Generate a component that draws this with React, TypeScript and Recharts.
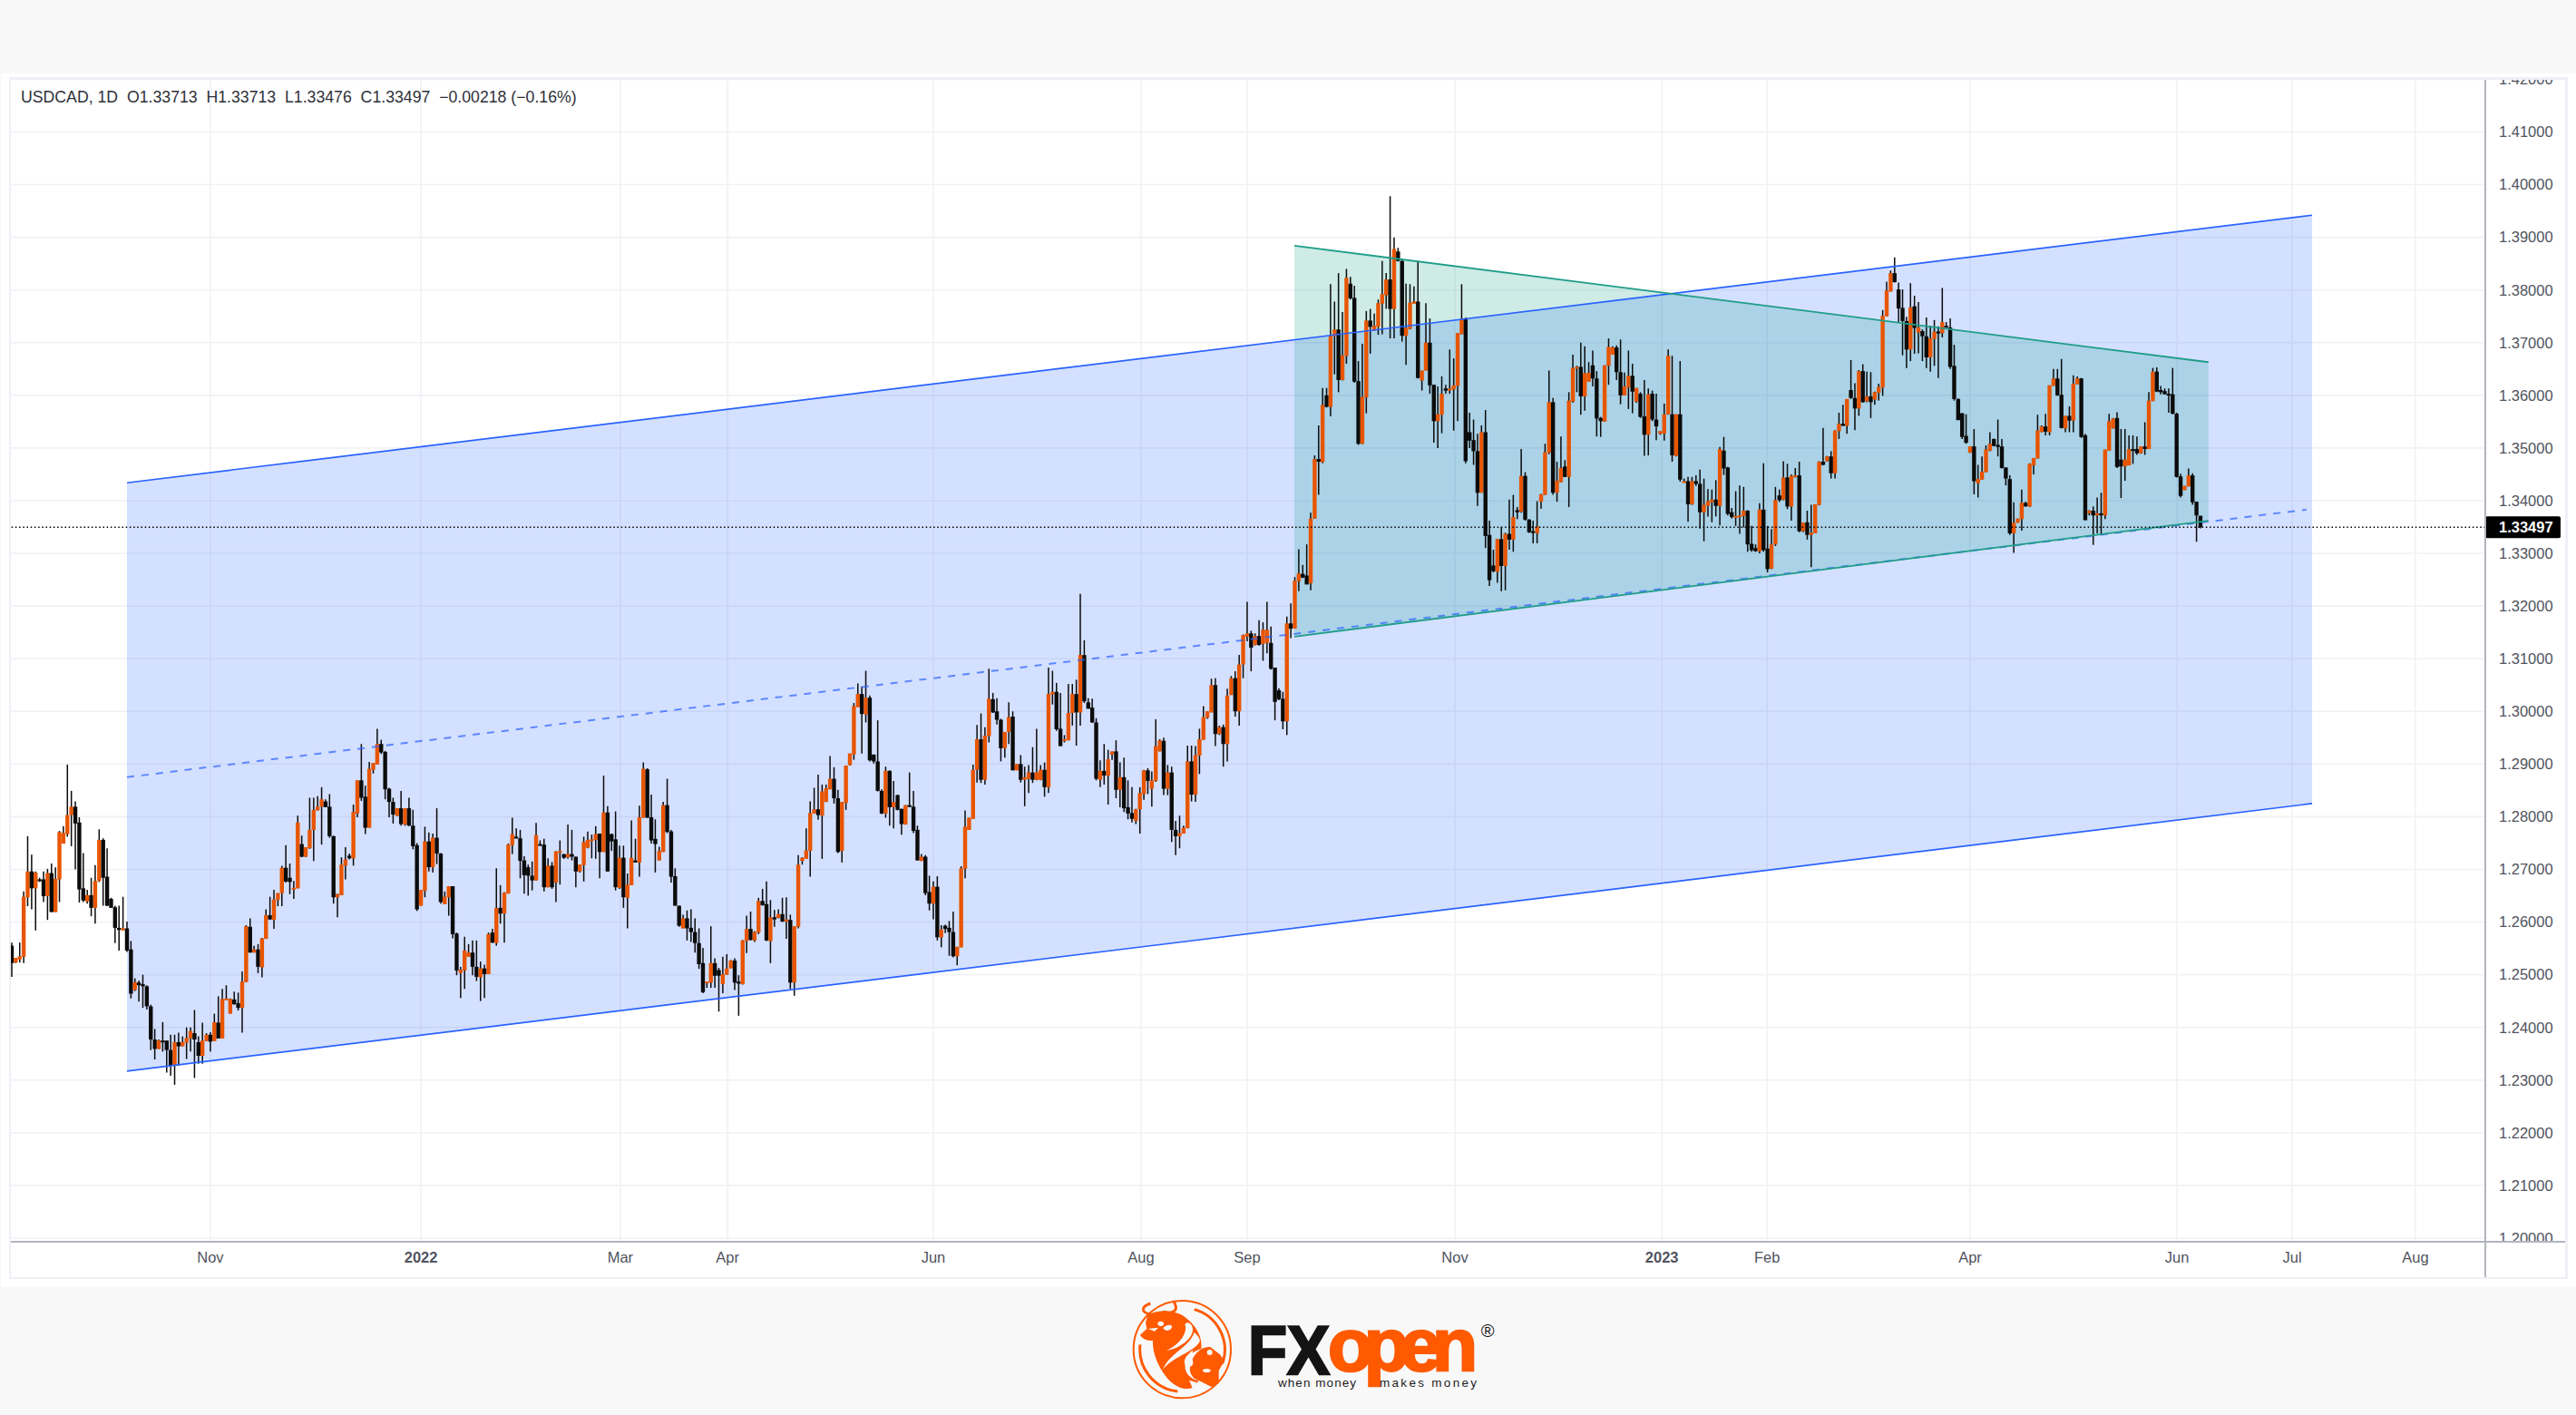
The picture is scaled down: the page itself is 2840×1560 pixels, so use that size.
import React from "react";
import { ComposedChart, Bar, Area, Line, XAxis, YAxis, CartesianGrid, ReferenceLine } from "recharts";

const opens = [
1.2555,1.2523,1.2529,1.2534,1.2647,1.2696,1.2664,1.2681,1.2681,1.2649,
1.2693,1.2619,1.2681,1.2749,1.2767,1.2803,1.2819,1.2789,1.2664,1.2639,
1.2651,1.2627,1.2678,1.2756,1.2686,1.2644,1.2628,1.2589,1.2584,1.2588,
1.2548,1.2471,1.2485,1.2482,1.2478,1.2440,1.2377,1.2359,1.2375,1.2375,
1.2357,1.2327,1.2372,1.2364,1.2371,1.2379,1.2389,1.2372,1.2346,1.2374,
1.2386,1.2374,1.2409,1.2379,1.2452,1.2426,1.2453,1.2446,1.2437,1.2486,
1.2591,1.2542,1.2548,1.2514,1.2568,1.2613,1.2604,1.2642,1.2655,1.2703,
1.2684,1.2662,1.2664,1.2748,1.2724,1.2740,1.2775,1.2812,1.2819,1.2829,
1.2819,1.2763,1.2647,1.2651,1.2707,1.2726,1.2721,1.2806,1.2869,1.2838,
1.2779,1.2889,1.2899,1.2938,1.2923,1.2853,1.2828,1.2802,1.2816,1.2785,
1.2816,1.2783,1.2746,1.2631,1.2659,1.2753,1.2704,1.2760,1.2730,1.2634,
1.2647,1.2668,1.2578,1.2503,1.2508,1.2534,1.2542,1.2515,1.2495,1.2512,
1.2501,1.2580,1.2560,1.2627,1.2616,1.2654,1.2746,1.2762,1.2759,1.2717,
1.2704,1.2688,1.2679,1.2748,1.2747,1.2666,1.2707,1.2675,1.2733,1.2729,
1.2723,1.2729,1.2724,1.2696,1.2708,1.2741,1.2755,1.2756,1.2768,1.2733,
1.2808,1.2767,1.2757,1.2665,1.2722,1.2646,1.2670,1.2717,1.2713,1.2798,
1.2890,1.2799,1.2758,1.2717,1.2733,1.2822,1.2772,1.2687,1.2631,1.2588,
1.2607,1.2589,1.2581,1.2560,1.2522,1.2485,1.2485,1.2522,1.2509,1.2482,
1.2500,1.2512,1.2527,1.2487,1.2482,1.2564,1.2587,1.2565,1.2580,1.2640,
1.2634,1.2564,1.2609,1.2608,1.2615,1.2601,1.2604,1.2485,1.2591,1.2716,
1.2720,1.2735,1.2806,1.2814,1.2802,1.2828,1.2852,1.2872,1.2835,1.2735,
1.2826,1.2898,1.2918,1.3008,1.3033,1.2994,1.3026,1.2918,1.2905,1.2849,
1.2806,1.2887,1.2818,1.2841,1.2815,1.2785,1.2822,1.2819,1.2775,1.2716,
1.2724,1.2657,1.2635,1.2667,1.2571,1.2593,1.2589,1.2581,1.2535,1.2552,
1.2701,1.2775,1.2796,1.2889,1.2947,1.2870,1.2953,1.3023,1.3000,1.2984,
1.2930,1.2961,1.2990,1.2888,1.2900,1.2870,1.2872,1.2884,1.2870,1.2870,
1.2889,1.2856,1.3032,1.3037,1.2967,1.2945,1.2945,1.2997,1.3033,1.2998,
1.3107,1.3017,1.3007,1.2979,1.2870,1.2887,1.2878,1.2918,1.2924,1.2851,
1.2875,1.2818,1.2807,1.2792,1.2814,1.2843,1.2888,1.2853,1.2868,1.2924,
1.2944,1.2853,1.2884,1.2775,1.2763,1.2768,1.2778,1.2905,1.2842,1.2916,
1.2946,1.2988,1.2998,1.3050,1.2957,1.2970,1.2938,1.3031,1.3063,1.3000,
1.3089,1.3142,1.3148,1.3126,1.3143,1.3128,1.3130,1.3130,1.3083,1.3040,
1.3024,1.2981,1.3167,1.3157,1.3247,1.3261,1.3258,1.3243,1.3366,1.3479,
1.3473,1.3600,1.3578,1.3712,1.3725,1.3629,1.3675,1.3812,1.3785,1.3627,
1.3508,1.3596,1.3742,1.3723,1.3730,1.3774,1.3790,1.3820,1.3764,1.3873,
1.3855,1.3713,1.3726,1.3774,1.3778,1.3628,1.3647,1.3700,1.3620,1.3551,
1.3563,1.3613,1.3609,1.3611,1.3618,1.3716,1.3746,1.3530,1.3515,1.3494,
1.3415,1.3530,1.3335,1.3277,1.3265,1.3327,1.3276,1.3337,1.3326,1.3382,
1.3379,1.3447,1.3364,1.3342,1.3338,1.3398,1.3411,1.3491,1.3587,1.3415,
1.3435,1.3465,1.3445,1.3588,1.3652,1.3654,1.3598,1.3626,1.3657,1.3632,
1.3557,1.3550,1.3656,1.3677,1.3691,1.3644,1.3600,1.3615,1.3637,1.3588,
1.3603,1.3560,1.3525,1.3603,1.3554,1.3527,1.3527,1.3564,1.3564,1.3485,
1.3564,1.3435,1.3437,1.3393,1.3437,1.3432,1.3378,1.3390,1.3397,1.3402,
1.3390,1.3495,1.3463,1.3378,1.3369,1.3369,1.3371,1.3381,1.3318,1.3310,
1.3304,1.3383,1.3309,1.3271,1.3317,1.3410,1.3402,1.3444,1.3389,1.3445,
1.3448,1.3342,1.3359,1.3335,1.3338,1.3392,1.3474,1.3475,1.3484,1.3452,
1.3532,1.3546,1.3542,1.3610,1.3595,1.3575,1.3646,1.3589,1.3598,1.3592,
1.3605,1.3615,1.3750,1.3797,1.3832,1.3801,1.3766,1.3741,1.3687,1.3769,
1.3719,1.3722,1.3712,1.3672,1.3707,1.3721,1.3718,1.3732,1.3729,1.3656,
1.3593,1.3566,1.3523,1.3491,1.3503,1.3433,1.3440,1.3454,1.3495,1.3517,
1.3506,1.3503,1.3463,1.3441,1.3338,1.3358,1.3365,1.3396,1.3389,1.3467,
1.3480,1.3530,1.3541,1.3530,1.3618,1.3632,1.3601,1.3537,1.3561,1.3552,
1.3621,1.3632,1.3524,1.3376,1.3381,1.3372,1.3376,1.3372,1.3495,1.3537,
1.3557,1.3478,1.3465,1.3467,1.3498,1.3498,1.3490,1.3503,1.3498,1.3589,
1.3645,1.3610,1.3608,1.3603,1.3602,1.3565,1.3446,1.3420,1.3427,1.3448,
1.3398,1.33713];

const highs = [
1.2561,1.2532,1.2561,1.2658,1.2763,1.2728,1.2696,1.2684,1.2696,1.2701,
1.2711,1.2704,1.2773,1.2782,1.2899,1.2849,1.2829,1.2799,1.2731,1.2661,
1.2684,1.2708,1.2776,1.2759,1.2740,1.2646,1.2631,1.2631,1.2648,1.2601,
1.2564,1.2493,1.2489,1.2500,1.2480,1.2443,1.2397,1.2377,1.2410,1.2375,
1.2386,1.2386,1.2390,1.2383,1.2400,1.2400,1.2433,1.2383,1.2409,1.2389,
1.2391,1.2426,1.2459,1.2473,1.2480,1.2455,1.2468,1.2466,1.2506,1.2594,
1.2607,1.2555,1.2558,1.2570,1.2624,1.2648,1.2661,1.2655,1.2707,1.2746,
1.2711,1.2678,1.2802,1.2764,1.2742,1.2836,1.2836,1.2839,1.2856,1.2833,
1.2843,1.2764,1.2654,1.2723,1.2742,1.2730,1.2823,1.2869,1.2938,1.2859,
1.2904,1.2902,1.2967,1.2946,1.2925,1.2855,1.2836,1.2816,1.2849,1.2816,
1.2836,1.2813,1.2750,1.2661,1.2781,1.2770,1.2768,1.2816,1.2731,1.2658,
1.2668,1.2668,1.2580,1.2515,1.2572,1.2558,1.2565,1.2565,1.2525,1.2519,
1.2580,1.2587,1.2702,1.2670,1.2657,1.2749,1.2798,1.2778,1.2775,1.2725,
1.2709,1.2715,1.2788,1.2755,1.2758,1.2721,1.2714,1.2735,1.2755,1.2729,
1.2785,1.2775,1.2724,1.2709,1.2762,1.2772,1.2766,1.2782,1.2768,1.2878,
1.2820,1.2768,1.2810,1.2745,1.2745,1.2692,1.2793,1.2758,1.2821,1.2903,
1.2892,1.2842,1.2795,1.2743,1.2828,1.2872,1.2775,1.2702,1.2631,1.2614,
1.2622,1.2624,1.2607,1.2588,1.2551,1.2487,1.2592,1.2531,1.2513,1.2534,
1.2539,1.2528,1.2531,1.2499,1.2566,1.2612,1.2620,1.2583,1.2646,1.2663,
1.2677,1.2642,1.2623,1.2624,1.2646,1.2647,1.2614,1.2592,1.2727,1.2723,
1.2778,1.2829,1.2855,1.2880,1.2861,1.2861,1.2915,1.2894,1.2851,1.2828,
1.2897,1.2920,1.3016,1.3053,1.3047,1.3077,1.3030,1.2918,1.2983,1.2852,
1.2895,1.2888,1.2868,1.2842,1.2815,1.2822,1.2884,1.2849,1.2783,1.2729,
1.2727,1.2688,1.2677,1.2687,1.2594,1.2595,1.2602,1.2620,1.2553,1.2706,
1.2812,1.2798,1.2899,1.2974,1.2996,1.2970,1.3081,1.3035,1.3025,1.2986,
1.2961,1.3017,1.3000,1.2900,1.2917,1.2895,1.2898,1.2932,1.2967,1.2898,
1.2903,1.3083,1.3077,1.3054,1.3035,1.2955,1.3052,1.3052,1.3060,1.3223,
1.3135,1.3025,1.3024,1.2987,1.2907,1.2938,1.2927,1.2924,1.2945,1.2903,
1.2912,1.2869,1.2856,1.2815,1.2856,1.2889,1.2892,1.2886,1.2985,1.2947,
1.2950,1.2898,1.2895,1.2792,1.2802,1.2783,1.2935,1.2935,1.2934,1.2967,
1.3010,1.3000,1.3062,1.3063,1.2973,1.2975,1.3043,1.3067,1.3076,1.3107,
1.3146,1.3208,1.3153,1.3148,1.3173,1.3169,1.3208,1.3161,1.3083,1.3044,
1.3037,1.3180,1.3205,1.3255,1.3308,1.3278,1.3317,1.3377,1.3486,1.3543,
1.3614,1.3614,1.3811,1.3778,1.3832,1.3758,1.3840,1.3825,1.3808,1.3665,
1.3698,1.3760,1.3764,1.3755,1.3782,1.3855,1.3832,1.3978,1.3900,1.3880,
1.3859,1.3812,1.3811,1.3807,1.3855,1.3647,1.3775,1.3746,1.3620,1.3617,
1.3636,1.3620,1.3687,1.3670,1.3718,1.3811,1.3748,1.3567,1.3554,1.3527,
1.3543,1.3572,1.3362,1.3307,1.3327,1.3350,1.3339,1.3402,1.3411,1.3388,
1.3498,1.3454,1.3365,1.3362,1.3399,1.3413,1.3508,1.3647,1.3595,1.3474,
1.3522,1.3477,1.3606,1.3677,1.3656,1.3700,1.3693,1.3663,1.3685,1.3646,
1.3559,1.3657,1.3708,1.3693,1.3695,1.3706,1.3643,1.3685,1.3660,1.3614,
1.3606,1.3629,1.3613,1.3609,1.3603,1.3532,1.3584,1.3687,1.3675,1.3564,
1.3665,1.3442,1.3445,1.3445,1.3448,1.3459,1.3442,1.3422,1.3421,1.3439,
1.3502,1.3521,1.3464,1.3386,1.3418,1.3429,1.3426,1.3382,1.3352,1.3317,
1.3395,1.3471,1.3352,1.3346,1.3426,1.3421,1.3475,1.3470,1.3450,1.3462,
1.3474,1.3358,1.3381,1.3392,1.3393,1.3475,1.3538,1.3485,1.3494,1.3534,
1.3567,1.3582,1.3593,1.3667,1.3623,1.3648,1.3659,1.3645,1.3644,1.3607,
1.3622,1.3762,1.3816,1.3837,1.3862,1.3814,1.3801,1.3749,1.3813,1.3789,
1.3777,1.3725,1.3748,1.3732,1.3743,1.3731,1.3804,1.3739,1.3746,1.3696,
1.3594,1.3566,1.3564,1.3503,1.3536,1.3468,1.3484,1.3505,1.3530,1.3518,
1.3554,1.3517,1.3463,1.3448,1.3397,1.3366,1.3421,1.3398,1.3471,1.3481,
1.3563,1.3543,1.3565,1.3619,1.3650,1.3650,1.3669,1.3561,1.3579,1.3638,
1.3636,1.3633,1.3527,1.3382,1.3389,1.3406,1.3415,1.3497,1.3565,1.3557,
1.3568,1.3536,1.3536,1.3524,1.3524,1.3522,1.3503,1.3549,1.3606,1.3652,
1.3653,1.3618,1.3613,1.3613,1.3652,1.3567,1.3451,1.3428,1.3461,1.3452,
1.3398,1.33713];

const lows = [
1.2496,1.2522,1.2523,1.2522,1.2630,1.2624,1.2584,1.2676,1.2638,1.2604,
1.2619,1.2619,1.2638,1.2749,1.2762,1.2744,1.2700,1.2637,1.2638,1.2635,
1.2611,1.2597,1.2676,1.2631,1.2630,1.2627,1.2560,1.2546,1.2584,1.2543,
1.2455,1.2469,1.2449,1.2437,1.2434,1.2357,1.2339,1.2359,1.2354,1.2314,
1.2308,1.2291,1.2327,1.2364,1.2340,1.2354,1.2304,1.2331,1.2331,1.2374,
1.2354,1.2374,1.2379,1.2379,1.2452,1.2426,1.2443,1.2432,1.2390,1.2486,
1.2542,1.2542,1.2503,1.2495,1.2568,1.2604,1.2587,1.2630,1.2630,1.2675,
1.2653,1.2644,1.2664,1.2723,1.2723,1.2739,1.2716,1.2812,1.2747,1.2818,
1.2760,1.2635,1.2609,1.2651,1.2681,1.2719,1.2707,1.2799,1.2830,1.2767,
1.2779,1.2882,1.2899,1.2919,1.2833,1.2799,1.2787,1.2801,1.2783,1.2783,
1.2782,1.2738,1.2621,1.2631,1.2647,1.2696,1.2694,1.2710,1.2635,1.2634,
1.2612,1.2569,1.2499,1.2456,1.2473,1.2534,1.2499,1.2488,1.2450,1.2456,
1.2501,1.2560,1.2555,1.2597,1.2561,1.2654,1.2729,1.2759,1.2683,1.2654,
1.2650,1.2660,1.2679,1.2745,1.2658,1.2666,1.2663,1.2638,1.2671,1.2720,
1.2720,1.2717,1.2666,1.2694,1.2677,1.2740,1.2721,1.2720,1.2683,1.2733,
1.2696,1.2735,1.2660,1.2663,1.2627,1.2588,1.2670,1.2713,1.2686,1.2798,
1.2798,1.2749,1.2694,1.2717,1.2733,1.2769,1.2675,1.2631,1.2591,1.2588,
1.2565,1.2562,1.2542,1.2511,1.2465,1.2475,1.2475,1.2475,1.2430,1.2465,
1.2500,1.2512,1.2471,1.2422,1.2481,1.2541,1.2565,1.2562,1.2577,1.2631,
1.2564,1.2522,1.2591,1.2607,1.2600,1.2568,1.2473,1.2460,1.2588,1.2709,
1.2720,1.2686,1.2806,1.2794,1.2720,1.2828,1.2852,1.2825,1.2731,1.2713,
1.2813,1.2897,1.2908,1.3008,1.2920,1.2979,1.2905,1.2901,1.2848,1.2805,
1.2798,1.2783,1.2778,1.2812,1.2766,1.2785,1.2818,1.2769,1.2717,1.2716,
1.2651,1.2622,1.2605,1.2565,1.2552,1.2579,1.2536,1.2533,1.2518,1.2552,
1.2683,1.2775,1.2796,1.2865,1.2864,1.2861,1.2941,1.2997,1.2975,1.2905,
1.2912,1.2938,1.2888,1.2888,1.2865,1.2820,1.2845,1.2864,1.2869,1.2869,
1.2838,1.2845,1.3013,1.2963,1.2934,1.2941,1.2945,1.2973,1.2935,1.2973,
1.3016,1.3005,1.2978,1.2869,1.2856,1.2861,1.2823,1.2908,1.2835,1.2818,
1.2809,1.2795,1.2789,1.2786,1.2768,1.2832,1.2843,1.2819,1.2866,1.2924,
1.2841,1.2841,1.2752,1.2727,1.2740,1.2768,1.2778,1.2829,1.2828,1.2881,
1.2946,1.2986,1.2998,1.2934,1.2955,1.2895,1.2905,1.3031,1.2990,1.2973,
1.3063,1.3133,1.3076,1.3125,1.3125,1.3096,1.3110,1.3079,1.2983,1.3021,
1.2966,1.2955,1.3139,1.3157,1.3228,1.3253,1.3241,1.3230,1.3366,1.3411,
1.3471,1.3577,1.3560,1.3640,1.3606,1.3628,1.3660,1.3782,1.3624,1.3506,
1.3507,1.3566,1.3679,1.3723,1.3715,1.3716,1.3764,1.3708,1.3708,1.3854,
1.3702,1.3658,1.3725,1.3774,1.3632,1.3609,1.3647,1.3603,1.3510,1.3500,
1.3528,1.3603,1.3603,1.3533,1.3551,1.3716,1.3471,1.3500,1.3468,1.3390,
1.3415,1.3310,1.3238,1.3264,1.3244,1.3228,1.3230,1.3307,1.3303,1.3365,
1.3377,1.3362,1.3339,1.3319,1.3319,1.3385,1.3411,1.3488,1.3411,1.3398,
1.3435,1.3445,1.3388,1.3586,1.3606,1.3563,1.3571,1.3626,1.3617,1.3522,
1.3521,1.3550,1.3620,1.3677,1.3629,1.3583,1.3600,1.3574,1.3566,1.3586,
1.3557,1.3485,1.3486,1.3551,1.3515,1.3525,1.3514,1.3563,1.3474,1.3484,
1.3436,1.3435,1.3360,1.3392,1.3428,1.3347,1.3323,1.3370,1.3359,1.3370,
1.3353,1.3449,1.3372,1.3366,1.3352,1.3337,1.3349,1.3303,1.3303,1.3303,
1.3300,1.3303,1.3264,1.3270,1.3314,1.3398,1.3401,1.3384,1.3362,1.3444,
1.3340,1.3340,1.3326,1.3274,1.3338,1.3391,1.3467,1.3474,1.3442,1.3442,
1.3517,1.3542,1.3527,1.3593,1.3534,1.3561,1.3586,1.3587,1.3557,1.3582,
1.3590,1.3599,1.3750,1.3797,1.3814,1.3739,1.3676,1.3652,1.3665,1.3679,
1.3680,1.3665,1.3652,1.3645,1.3656,1.3633,1.3710,1.3728,1.3650,1.3590,
1.3553,1.3517,1.3508,1.3491,1.3412,1.3406,1.3440,1.3454,1.3494,1.3503,
1.3484,1.3461,1.3429,1.3335,1.3301,1.3358,1.3343,1.3389,1.3388,1.3450,
1.3480,1.3530,1.3524,1.3524,1.3618,1.3599,1.3537,1.3530,1.3530,1.3530,
1.3621,1.3519,1.3363,1.3372,1.3316,1.3338,1.3336,1.3365,1.3495,1.3537,
1.3462,1.3405,1.3438,1.3467,1.3470,1.3487,1.3489,1.3487,1.3498,1.3589,
1.3606,1.3602,1.3602,1.3567,1.3564,1.3444,1.3406,1.3420,1.3427,1.3392,
1.3322,1.33476];

const closes = [
1.2522,1.2532,1.2535,1.2648,1.2696,1.2664,1.2694,1.2679,1.2649,1.2693,
1.2619,1.2682,1.2771,1.2769,1.2803,1.2819,1.2787,1.2662,1.2641,1.2651,
1.2627,1.2678,1.2756,1.2684,1.2631,1.2627,1.2589,1.2585,1.2588,1.2546,
1.2464,1.2486,1.2480,1.2478,1.2440,1.2377,1.2359,1.2375,1.2373,1.2357,
1.2327,1.2372,1.2364,1.2372,1.2380,1.2393,1.2377,1.2346,1.2375,1.2386,
1.2373,1.2410,1.2379,1.2454,1.2455,1.2454,1.2444,1.2437,1.2487,1.2592,
1.2542,1.2548,1.2515,1.2569,1.2613,1.2605,1.2643,1.2655,1.2703,1.2677,
1.2676,1.2665,1.2789,1.2724,1.2742,1.2775,1.2813,1.2819,1.2833,1.2818,
1.2763,1.2647,1.2653,1.2709,1.2719,1.2721,1.2809,1.2869,1.2836,1.2779,
1.2891,1.2902,1.2938,1.2922,1.2852,1.2828,1.2804,1.2816,1.2786,1.2816,
1.2783,1.2744,1.2624,1.2661,1.2753,1.2704,1.2760,1.2730,1.2638,1.2648,
1.2668,1.2577,1.2508,1.2509,1.2546,1.2542,1.2515,1.2496,1.2512,1.2501,
1.2577,1.2561,1.2627,1.2616,1.2656,1.2747,1.2767,1.2759,1.2716,1.2689,
1.2688,1.2679,1.2765,1.2746,1.2666,1.2707,1.2666,1.2734,1.2735,1.2722,
1.2729,1.2724,1.2696,1.2709,1.2752,1.2756,1.2757,1.2767,1.2733,1.2808,
1.2696,1.2753,1.2666,1.2722,1.2647,1.2671,1.2722,1.2713,1.2799,1.2891,
1.2798,1.2755,1.2748,1.2735,1.2822,1.2771,1.2686,1.2631,1.2593,1.2607,
1.2588,1.2581,1.2560,1.2520,1.2467,1.2487,1.2522,1.2498,1.2498,1.2501,
1.2512,1.2527,1.2485,1.2483,1.2565,1.2587,1.2566,1.2581,1.2640,1.2632,
1.2565,1.2609,1.2605,1.2615,1.2601,1.2605,1.2485,1.2592,1.2709,1.2722,
1.2736,1.2807,1.2814,1.2803,1.2848,1.2854,1.2872,1.2835,1.2733,1.2828,
1.2897,1.2920,1.3010,1.3033,1.2995,1.3026,1.2907,1.2905,1.2849,1.2806,
1.2887,1.2818,1.2828,1.2813,1.2786,1.2822,1.2819,1.2773,1.2717,1.2724,
1.2655,1.2635,1.2667,1.2571,1.2586,1.2587,1.2581,1.2535,1.2553,1.2702,
1.2781,1.2798,1.2889,1.2947,1.2870,1.2954,1.3024,1.2998,1.2984,1.2930,
1.2961,1.2989,1.2888,1.2900,1.2870,1.2875,1.2884,1.2870,1.2884,1.2889,
1.2856,1.3033,1.3037,1.2966,1.2934,1.2947,1.2997,1.3033,1.2998,1.3107,
1.3019,1.3005,1.2979,1.2872,1.2887,1.2878,1.2909,1.2924,1.2851,1.2875,
1.2816,1.2806,1.2796,1.2814,1.2845,1.2888,1.2868,1.2869,1.2934,1.2945,
1.2853,1.2884,1.2775,1.2763,1.2769,1.2779,1.2905,1.2842,1.2917,1.2947,
1.2989,1.3000,1.3050,1.2957,1.2970,1.2938,1.3030,1.3063,1.3000,1.3089,
1.3145,1.3148,1.3121,1.3143,1.3126,1.3155,1.3155,1.3081,1.3018,1.3023,
1.2981,1.3167,1.3157,1.3248,1.3262,1.3254,1.3241,1.3366,1.3479,1.3474,
1.3582,1.3578,1.3713,1.3725,1.3629,1.3676,1.3823,1.3784,1.3626,1.3508,
1.3597,1.3742,1.3730,1.3732,1.3775,1.3792,1.3820,1.3764,1.3878,1.3855,
1.3713,1.3728,1.3776,1.3778,1.3633,1.3647,1.3700,1.3619,1.3551,1.3564,
1.3603,1.3609,1.3613,1.3619,1.3718,1.3745,1.3475,1.3514,1.3494,1.3415,
1.3530,1.3333,1.3249,1.3266,1.3327,1.3276,1.3337,1.3326,1.3369,1.3378,
1.3447,1.3364,1.3340,1.3339,1.3351,1.3412,1.3492,1.3587,1.3415,1.3438,
1.3462,1.3445,1.3590,1.3652,1.3654,1.3598,1.3642,1.3643,1.3632,1.3556,
1.3551,1.3657,1.3692,1.3691,1.3644,1.3600,1.3617,1.3637,1.3607,1.3614,
1.3559,1.3525,1.3602,1.3554,1.3541,1.3532,1.3564,1.3675,1.3486,1.3564,
1.3440,1.3437,1.3393,1.3437,1.3432,1.3378,1.3392,1.3399,1.3402,1.3390,
1.3498,1.3461,1.3375,1.3369,1.3371,1.3372,1.3381,1.3317,1.3306,1.3304,
1.3383,1.3306,1.3270,1.3317,1.3401,1.3401,1.3444,1.3389,1.3447,1.3448,
1.3342,1.3358,1.3335,1.3339,1.3393,1.3474,1.3468,1.3484,1.3452,1.3533,
1.3546,1.3542,1.3593,1.3595,1.3575,1.3646,1.3587,1.3598,1.3587,1.3606,
1.3616,1.3751,1.3799,1.3832,1.3815,1.3765,1.3741,1.3687,1.3767,1.3728,
1.3729,1.3712,1.3672,1.3708,1.3721,1.3718,1.3739,1.3729,1.3654,1.3593,
1.3553,1.3521,1.3510,1.3503,1.3437,1.3441,1.3455,1.3497,1.3508,1.3504,
1.3502,1.3462,1.3442,1.3338,1.3358,1.3366,1.3396,1.3389,1.3470,1.3481,
1.3533,1.3541,1.3531,1.3619,1.3632,1.3600,1.3538,1.3561,1.3552,1.3622,
1.3632,1.3521,1.3363,1.3381,1.3372,1.3376,1.3372,1.3497,1.3551,1.3556,
1.3464,1.3465,1.3478,1.3498,1.3495,1.3490,1.3503,1.3498,1.3590,1.3645,
1.3607,1.3606,1.3602,1.3602,1.3565,1.3445,1.3409,1.3428,1.3448,1.3397,
1.3372,1.33497];

const priceTicks = [1.2,1.21,1.22,1.23,1.24,1.25,1.26,1.27,1.28,1.29,1.3,1.31,1.32,1.33,1.34,1.35,1.36,1.37,1.38,1.39,1.4,1.41,1.42];
const tickBars = [50,103,153.2,180.2,232,284.3,311,363.3,415.4,441.9,493,545.1,574.1,605.1];
const tickLabels = ["Nov","2022","Mar","Apr","Jun","Aug","Sep","Nov","2023","Feb","Apr","Jun","Jul","Aug"];

const channelBars = [29, 579.1];
const channelLower = [1.2317, 1.2825];
const channelUpper = [1.3434, 1.3942];
const channelMidBars = [29, 577.7];
const channelMid = [1.2875, 1.3383];
const triangleBars = [322.9, 553];
const triangleLower = [1.3142, 1.3362];
const triangleUpper = [1.3884, 1.3663];

const lastPrice = 1.33497;

const BLUE = "#2962ff";
const GREEN = "#1f9d88";
const ORANGE = "#e85500";
const DARK = "#0b0b0b";
const FONT = "'Liberation Sans', Arial, sans-serif";
const GRID = "#f1f2f6";
const AXIS = "#b2b5be";

const candles = opens.map((o, i) => ({
  bar: i, open: o, high: highs[i], low: lows[i], close: closes[i], range: [lows[i], highs[i]],
}));
const channelRows = channelBars.map((b, i) => ({
  bar: b, band: [channelLower[i], channelUpper[i]], lower: channelLower[i], upper: channelUpper[i],
}));
const midRows = channelMidBars.map((b, i) => ({ bar: b, mid: channelMid[i] }));
const triangleRows = triangleBars.map((b, i) => ({
  bar: b, band: [triangleLower[i], triangleUpper[i]], lower: triangleLower[i], upper: triangleUpper[i],
}));

function Candle(props: any) {
  const { x, y, width, height, payload } = props;
  const cx = x + width / 2;
  const span = payload.high - payload.low || 1e-6;
  const k = height / span;
  const top = y + (payload.high - Math.max(payload.open, payload.close)) * k;
  const bot = y + (payload.high - Math.min(payload.open, payload.close)) * k;
  const up = payload.close >= payload.open;
  return (
    <g>
      <line x1={cx} x2={cx} y1={y} y2={y + height} stroke={DARK} strokeWidth={1.5} />
      <rect x={cx - 2.2} y={top} width={4.4} height={Math.max(bot - top, 2)} fill={up ? ORANGE : DARK} />
    </g>
  );
}

function XTick(props: any) {
  const { x, y, payload } = props;
  const label = tickLabels[tickBars.indexOf(payload.value)];
  const isYear = /^\d/.test(label || "");
  return (
    <text x={x} y={y} dy={9} textAnchor="middle" dominantBaseline="central"
      fontFamily={FONT} fontSize={16.5} fontWeight={isYear ? 700 : 400} fill="#50535e">{label}</text>
  );
}

function PriceLabel(props: any) {
  const vb = props.viewBox;
  const right = vb.x + vb.width;
  return (
    <g>
      <rect x={right} y={vb.y - 12} width={83} height={24} rx={2} fill="#000" />
      <text x={right + 15} y={vb.y} dominantBaseline="central" fontFamily={FONT} fontSize={16.5} fontWeight={700} fill="#fff">
        {lastPrice.toFixed(5)}
      </text>
    </g>
  );
}

const box = (left: number, top: number, width: number, height: number, background: string): React.CSSProperties => ({
  position: "absolute", left, top, width, height, background,
});

function Emblem() {
  const c = "#ff5a00";
  const bg = "#f8f8f9";
  return (
    <svg style={{ position: "absolute", left: 1235, top: 1425 }} width={140} height={125} viewBox="0 0 420 375">
      <circle cx={205} cy={188} r={161} fill="none" stroke={c} strokeWidth={6} />
      <path d="M245 56 A138 138 0 0 1 338 235" fill="none" stroke={c} strokeWidth={9} />
      <path d="M66 172 A140 140 0 0 0 190 327" fill="none" stroke={c} strokeWidth={9} />
      <path d="M92 72 C130 55 190 60 215 82 C255 112 272 150 268 186 C240 195 224 208 216 232 C208 262 230 285 260 292 L238 316 C200 326 170 302 150 276 C122 240 106 195 108 158 C90 162 70 150 66 140 L88 120 L84 100 Z" fill={c} />
      <path d="M232 240 C240 205 268 176 298 180 L330 205 L345 226 L326 258 L326 300 L302 312 L262 292 C240 286 226 266 232 240 Z" fill={c} />
      <path d="M100 72 C70 66 66 48 100 36" fill="none" stroke={c} strokeWidth={9} />
      <path d="M140 64 C178 72 196 58 176 28" fill="none" stroke={c} strokeWidth={9} />
      <path d="M214 104 C226 136 190 176 152 192 C196 186 242 152 240 120 C238 104 224 94 214 104 Z" fill={bg} />
      <path d="M244 132 C232 180 160 200 140 258 C164 216 250 196 264 160 C262 148 254 138 244 132 Z" fill={bg} />
      <path d="M240 190 C224 206 204 222 216 240 C226 252 246 244 240 226 C236 212 240 200 240 190 Z" fill={bg} />
      <ellipse cx={134} cy={103} rx={10} ry={8} fill={bg} />
      <path d="M92 120 L126 116 L114 128 Z" fill={bg} />
      <path d="M142 118 C150 106 168 104 172 112 C168 126 152 132 142 118 Z" fill={bg} />
      <ellipse cx={286} cy={258} rx={13} ry={6} fill={bg} />
      <circle cx={296} cy={198} r={9} fill={bg} />
      <path d="M228 290 L254 298 L240 318 Z" fill={bg} />
    </svg>
  );
}

function LogoText() {
  return (
    <svg style={{ position: "absolute", left: 1340, top: 1420 }} width={340} height={130} viewBox="1340 1420 340 130">
      <text x={1376} y={1515} fontFamily={FONT} fontSize={76} fontWeight={700} fill="#141414" stroke="#141414" strokeWidth={2.5} textLength={90} lengthAdjust="spacingAndGlyphs">FX</text>
      <text x={1464} y={1511} fontFamily={FONT} fontSize={82} fontWeight={700} fill="#ff5a00" stroke="#ff5a00" strokeWidth={2.5} textLength={165} lengthAdjust="spacing">open</text>
      <text x={1409} y={1529} fontFamily={FONT} fontSize={13.5} fill="#1c1c1c" textLength={86}>when money</text>
      <text x={1521} y={1529} fontFamily={FONT} fontSize={13.5} fill="#1c1c1c" textLength={107}>makes money</text>
      <text x={1640} y={1467} textAnchor="middle" dominantBaseline="central" fontFamily={FONT} fontSize={20} fill="#141414">®</text>
    </svg>
  );
}

export default function App() {
  return (
    <div style={{ position: "absolute", left: 0, top: 0, width: 2840, height: 1560, background: "#f8f8f9", overflow: "hidden" }}>
      <div style={box(1, 81, 2839, 1338, "#ffffff")} />
      <div style={{ position: "absolute", left: 0, top: 0 }}>
        <ComposedChart width={2840} height={1560} data={candles} margin={{ left: 10, right: 12, top: 88, bottom: 152 }}>
          <CartesianGrid stroke={GRID} strokeWidth={1.6} verticalValues={tickBars} horizontalValues={priceTicks} />
          <XAxis dataKey="bar" type="number" domain={[-0.685, 622.7]} allowDataOverflow ticks={tickBars} interval={0}
            height={39} axisLine={false} tickLine={false} tick={<XTick />} />
          <YAxis orientation="right" type="number" domain={[1.1993, 1.4199]} allowDataOverflow ticks={priceTicks} interval={0}
            width={88} axisLine={false} tickLine={false} tickSize={0} tickMargin={15}
            tick={{ fontFamily: FONT, fontSize: 16.5, fill: "#50535e" }} tickFormatter={(v: number) => v.toFixed(5)} />
          <Area data={channelRows} dataKey="band" type="linear" stroke="none" fill={BLUE} fillOpacity={0.2} isAnimationActive={false} dot={false} activeDot={false} />
          <Area data={triangleRows} dataKey="band" type="linear" stroke="none" fill="#089981" fillOpacity={0.2} isAnimationActive={false} dot={false} activeDot={false} />
          <Line data={channelRows} dataKey="upper" type="linear" stroke={BLUE} strokeWidth={1.7} dot={false} activeDot={false} isAnimationActive={false} />
          <Line data={channelRows} dataKey="lower" type="linear" stroke={BLUE} strokeWidth={1.7} dot={false} activeDot={false} isAnimationActive={false} />
          <Line data={midRows} dataKey="mid" type="linear" stroke={BLUE} strokeWidth={2} strokeDasharray="8 8" strokeOpacity={0.7} dot={false} activeDot={false} isAnimationActive={false} />
          <Line data={triangleRows} dataKey="upper" type="linear" stroke={GREEN} strokeWidth={1.8} dot={false} activeDot={false} isAnimationActive={false} />
          <Line data={triangleRows} dataKey="lower" type="linear" stroke={GREEN} strokeWidth={1.8} dot={false} activeDot={false} isAnimationActive={false} />
          <Bar dataKey="range" barSize={4} shape={<Candle />} isAnimationActive={false} />
          <ReferenceLine y={lastPrice} stroke="#000" strokeWidth={1.5} strokeDasharray="1.5 2.7" label={<PriceLabel />} />
        </ComposedChart>
      </div>
      {/* frame around the plot, also clipping the outermost price labels */}
      <div style={box(0, 0, 2840, 81, "#f8f8f9")} />
      <div style={box(1, 81, 2839, 4, "#ffffff")} />
      <div style={box(10, 85, 2821, 3, "#eff0f5")} />
      <div style={box(10, 85, 2, 1325, "#eff0f5")} />
      <div style={box(2828, 85, 3, 1325, "#eff0f5")} />
      <div style={box(10, 1408, 2821, 2, "#eff0f5")} />
      <div style={box(2741, 1370, 87, 38, "#ffffff")} />
      <div style={box(12, 1368, 2816, 2, AXIS)} />
      <div style={box(2739, 88, 2, 1320, AXIS)} />
      <div style={{ position: "absolute", left: 23, top: 97, fontFamily: FONT, fontSize: 17.7, color: "#2e3038", whiteSpace: "pre" }}>
        {"USDCAD, 1D  O1.33713  H1.33713  L1.33476  C1.33497  \u22120.00218 (\u22120.16%)"}
      </div>
      <Emblem />
      <LogoText />
    </div>
  );
}
